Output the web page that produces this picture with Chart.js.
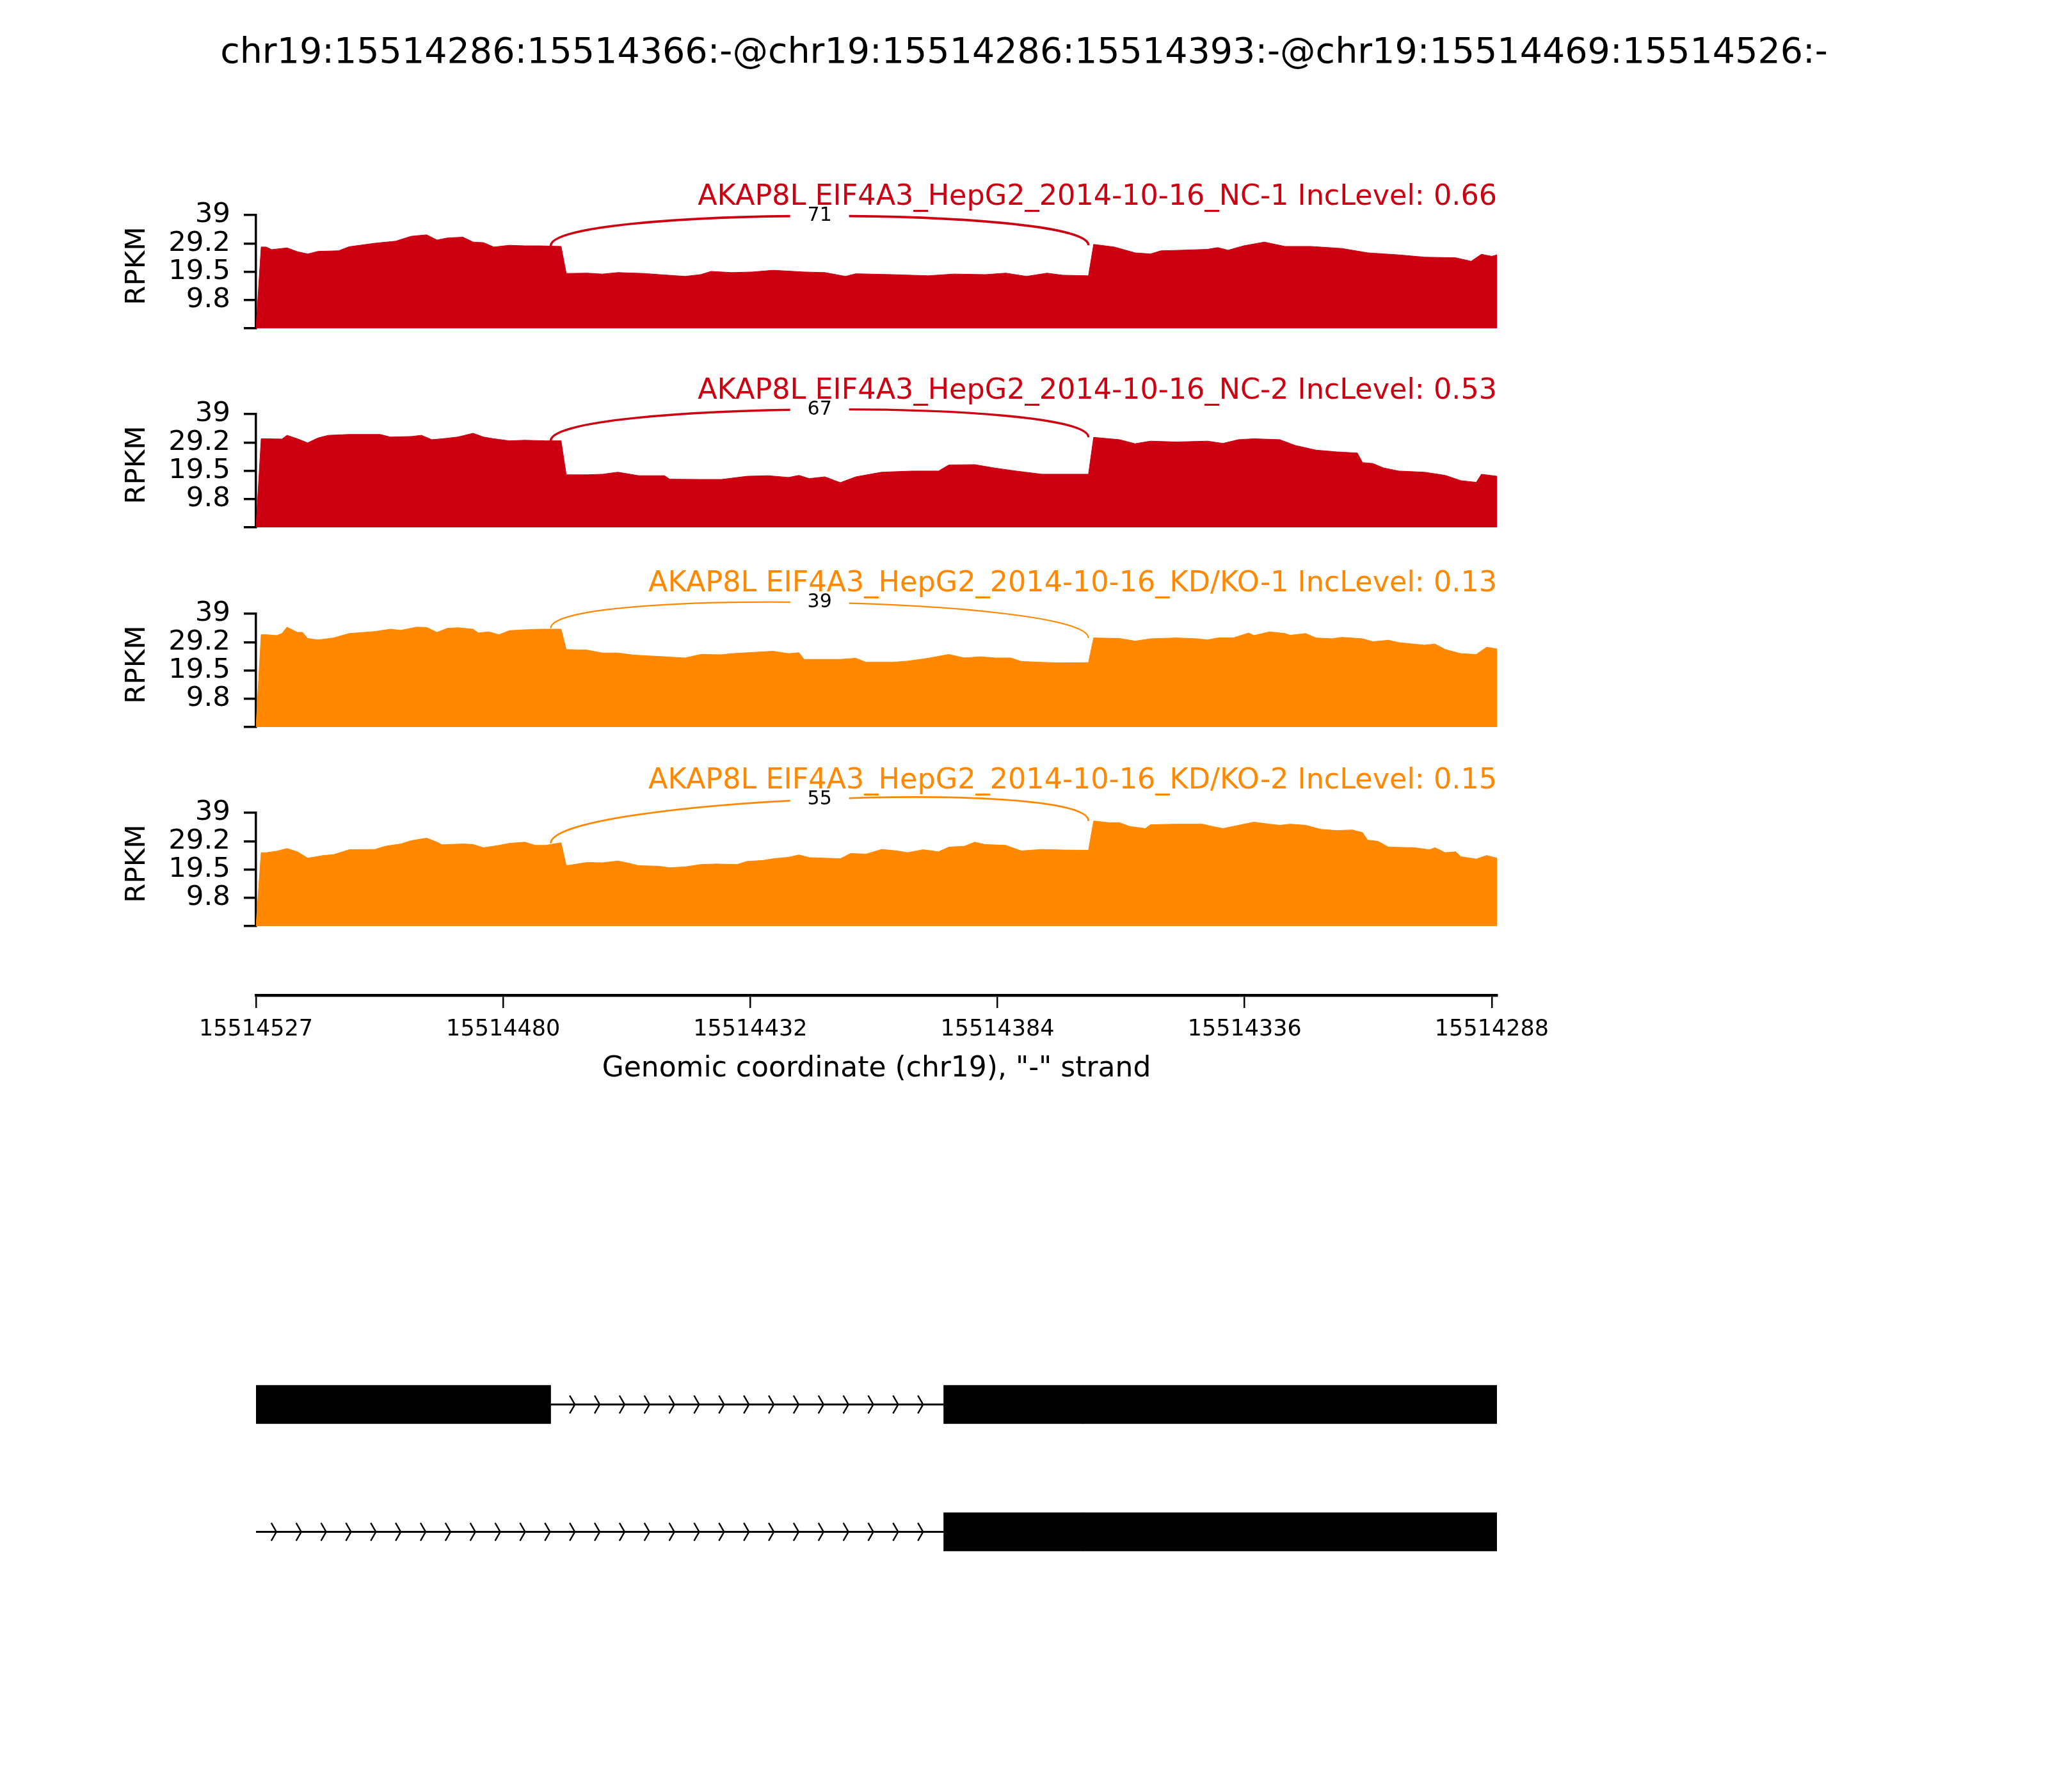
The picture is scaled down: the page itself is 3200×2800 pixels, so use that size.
<!DOCTYPE html>
<html>
<head>
<meta charset="utf-8">
<script src="https://cdn.jsdelivr.net/npm/chart.js@4.4.1/dist/chart.umd.min.js"></script>
<style>
  html, body { margin: 0; padding: 0; background: #fff; }
  #page { position: relative; width: 3200px; height: 2800px; background: #fff; overflow: hidden; }
  #page canvas { position: absolute; left: 0; }
</style>
</head>
<body>
<div id="page"></div>
<script>
const FONT = 'DejaVu Sans';
Chart.defaults.font.family = FONT;
Chart.defaults.color = '#000';

// ---- data ----
const pageTitle = 'chr19:15514286:15514366:-@chr19:15514286:15514393:-@chr19:15514469:15514526:-';
const sampleNames = [
  'AKAP8L EIF4A3_HepG2_2014-10-16_NC-1',
  'AKAP8L EIF4A3_HepG2_2014-10-16_NC-2',
  'AKAP8L EIF4A3_HepG2_2014-10-16_KD/KO-1',
  'AKAP8L EIF4A3_HepG2_2014-10-16_KD/KO-2'
];
const incLevels = ['0.66', '0.53', '0.13', '0.15'];
const sampleColors = ['#CC0011', '#CC0011', '#FF8800', '#FF8800'];

// coverage as [position in window, RPKM]
const covNC1 = [[0,0],[1,28.0],[2,28.0],[3,27.1],[6,27.7],[8,26.4],[10,25.6],[12,26.5],[16,26.7],[18,28.1],[23,29.3],[27,30.0],[30,31.7],[33,32.2],[35,30.4],[37,31.1],[40,31.4],[42,29.7],[44,29.5],[46,28.0],[49,28.6],[52,28.4],[55,28.4],[59,28.2],[60,18.9],[64,19.0],[67,18.7],[70,19.2],[75,18.9],[78,18.5],[83,17.9],[86,18.5],[88,19.6],[92,19.2],[96,19.4],[100,20.0],[106,19.4],[110,19.2],[114,17.9],[116,18.8],[123,18.5],[130,18.1],[135,18.7],[141,18.5],[145,19.0],[149,17.9],[153,19.0],[156,18.3],[161,18.1],[162,28.9],[166,28.0],[170,26.0],[173,25.6],[175,26.7],[179,26.9],[184,27.2],[186,27.8],[188,26.9],[191,28.4],[195,29.7],[199,28.2],[204,28.2],[210,27.5],[215,26.0],[221,25.3],[226,24.5],[232,24.3],[235,23.1],[237,25.5],[239,24.8],[240,25.3]];
const covNC2 = [[0,0],[1,30.5],[2,30.5],[5,30.4],[6,31.7],[8,30.5],[10,29.1],[12,30.8],[14,31.7],[18,32.0],[24,32.0],[26,31.1],[30,31.3],[32,31.7],[34,30.2],[36,30.5],[39,31.1],[42,32.4],[44,31.1],[46,30.5],[49,29.8],[52,30.0],[56,29.8],[59,29.8],[60,18.1],[64,18.1],[67,18.3],[70,19.0],[74,17.8],[79,17.8],[80,16.6],[86,16.5],[90,16.5],[95,17.6],[99,17.8],[103,17.2],[105,17.9],[107,16.8],[110,17.4],[113,15.4],[116,17.4],[121,19.0],[127,19.4],[132,19.4],[134,21.5],[139,21.6],[143,20.4],[147,19.4],[152,18.3],[161,18.3],[162,31.0],[167,30.2],[170,28.8],[173,29.7],[178,29.4],[184,29.7],[187,28.9],[190,30.2],[193,30.5],[198,30.2],[201,28.2],[205,26.6],[209,26.0],[213,25.6],[214,22.3],[216,22.0],[218,20.5],[221,19.4],[226,19.0],[230,17.9],[233,16.1],[236,15.5],[237,18.3],[240,17.6]];
const covKD1 = [[0,0],[1,31.8],[2,31.8],[4,31.5],[5,32.2],[6,34.4],[8,32.6],[9,32.6],[10,30.5],[12,30.0],[15,30.7],[18,32.2],[23,32.9],[26,33.7],[28,33.3],[31,34.4],[33,34.3],[35,32.6],[37,34.0],[39,34.2],[42,33.7],[43,32.4],[45,32.8],[47,31.8],[49,33.2],[52,33.5],[55,33.7],[59,33.7],[60,26.7],[64,26.5],[67,25.5],[70,25.5],[73,24.8],[78,24.3],[83,23.8],[86,25.0],[90,24.9],[92,25.3],[95,25.6],[100,26.1],[103,25.3],[105,25.6],[106,23.3],[113,23.3],[116,23.7],[118,22.3],[120,22.3],[123,22.3],[126,22.7],[130,23.7],[134,25.0],[137,23.8],[140,24.2],[143,23.8],[146,23.8],[148,22.6],[152,22.3],[155,22.1],[161,22.2],[162,30.7],[167,30.5],[170,29.6],[173,30.4],[178,30.7],[182,30.4],[184,30.0],[186,30.7],[189,30.7],[192,32.4],[193,31.5],[196,32.8],[199,32.2],[200,31.6],[203,32.2],[205,30.7],[208,30.4],[210,30.9],[214,30.4],[216,29.4],[219,29.9],[221,29.1],[226,28.2],[228,28.6],[230,26.7],[233,25.3],[236,25.0],[238,27.5],[240,26.9]];
const covKD2 = [[0,0],[1,25.3],[2,25.3],[4,25.8],[6,26.7],[8,25.6],[10,23.4],[13,24.3],[15,24.6],[18,26.3],[23,26.4],[25,27.5],[28,28.3],[30,29.4],[33,30.3],[35,28.9],[36,28.0],[40,28.3],[42,28.1],[44,27.0],[47,27.8],[49,28.5],[52,28.9],[54,27.8],[56,27.8],[59,28.7],[60,20.8],[64,21.9],[67,21.8],[70,22.4],[72,21.7],[74,20.8],[78,20.6],[80,20.1],[83,20.4],[86,21.2],[89,21.4],[93,21.2],[95,22.3],[98,22.6],[100,23.2],[103,23.7],[105,24.5],[107,23.6],[110,23.4],[113,23.2],[115,25.0],[118,24.8],[121,26.4],[124,25.9],[126,25.3],[129,26.3],[132,25.6],[134,27.2],[137,27.5],[139,28.9],[141,28.1],[145,27.8],[148,25.9],[152,26.4],[156,26.2],[161,26.1],[162,36.2],[165,35.6],[167,35.6],[169,34.3],[172,33.6],[173,34.9],[178,35.1],[183,35.1],[185,34.3],[187,33.6],[190,34.7],[193,35.8],[196,35.1],[198,34.7],[200,35.1],[203,34.7],[206,33.3],[209,32.9],[212,33.1],[214,32.2],[215,29.6],[217,29.2],[219,27.2],[224,27.0],[227,26.3],[228,27.0],[230,25.3],[232,25.6],[233,23.9],[236,23.1],[238,24.3],[240,23.4]];
const coverage = [covNC1, covNC2, covKD1, covKD2];

// junction (window positions), read counts, arc anchors and lift
const junction = [57, 161];
const juncCounts = [71, 67, 39, 55];
const juncLeftY = [28.4, 29.8, 34.0, 28.5];
const juncRightY = [28.6, 31.0, 30.6, 36.2];
const juncLift = [13.6, 13.6, 14.1, 15.1];
const juncWidth = [3.6, 3.4, 2.1, 2.8];

const yTickVals = [0, 9.75, 19.5, 29.25, 39];
const yTickLabels = ['', '9.8', '19.5', '29.2', '39'];
const xTickVals = [0, 47.8, 95.6, 143.4, 191.2, 239];
const xTickLabels = ['15514527', '15514480', '15514432', '15514384', '15514336', '15514288'];
const xTitle = 'Genomic coordinate (chr19), "-" strand';

// isoforms: exon spans and intron span, window positions
const isoRows = ['iso1', 'iso2'];
const exonA = [[0, 57], null];
const exonB = [[133, 160], [133, 160]];
const exonC = [[160, 240], [160, 240]];
const introns = [[57, 133], [0, 133]];

// ---- layout ----
const PAGE_W = 3200;
const PLOT_LEFT = 400, PLOT_RIGHT = 2339;
const panelTops = [336, 647, 959, 1270];
const PANEL_H = 177;

const page = document.getElementById('page');
function addCanvas(top, height) {
  const c = document.createElement('canvas');
  c.width = PAGE_W; c.height = height;
  c.style.top = top + 'px';
  c.style.width = PAGE_W + 'px'; c.style.height = height + 'px';
  page.appendChild(c);
  return c;
}

function panelDecor(i) {
  return {
    id: 'decor' + i,
    afterDraw(chart) {
      const {ctx, chartArea: a, scales: {x, y}} = chart;
      const color = sampleColors[i];
      const x1 = x.getPixelForValue(junction[0]);
      const x2 = x.getPixelForValue(junction[1]);
      const yl = juncLeftY[i], yr = juncRightY[i], h = juncLift[i];
      ctx.save();
      ctx.strokeStyle = color;
      ctx.lineWidth = juncWidth[i];
      ctx.beginPath();
      ctx.moveTo(x1, y.getPixelForValue(yl));
      ctx.bezierCurveTo(x1, y.getPixelForValue(yl + h), x2, y.getPixelForValue(yr + h), x2, y.getPixelForValue(yr));
      ctx.stroke();

      const mx = (x1 + x2) / 2;
      const my = y.getPixelForValue((yl + yr) / 2 + 0.75 * h);
      ctx.fillStyle = '#fff';
      ctx.fillRect(mx - 46, my - 20, 92, 40);
      ctx.fillStyle = '#000';
      ctx.font = '30px "' + FONT + '"';
      ctx.textAlign = 'center';
      ctx.textBaseline = 'middle';
      ctx.fillText(String(juncCounts[i]), mx, my);

      ctx.fillStyle = color;
      ctx.font = '44.5px "' + FONT + '"';
      ctx.textAlign = 'right';
      ctx.textBaseline = 'alphabetic';
      ctx.fillText(sampleNames[i] + ' IncLevel: ' + incLevels[i], a.right, my - 17);

      ctx.fillStyle = '#000';
      ctx.font = '43.5px "' + FONT + '"';
      ctx.textAlign = 'center';
      ctx.textBaseline = 'middle';
      ctx.translate(a.left - 185, (a.top + a.bottom) / 2 - 9);
      ctx.rotate(-Math.PI / 2);
      ctx.fillText('RPKM', 0, 0);
      ctx.restore();

      if (i === 0) {
        ctx.save();
        ctx.fillStyle = '#000';
        ctx.font = '55.5px "' + FONT + '"';
        ctx.textAlign = 'center';
        ctx.textBaseline = 'alphabetic';
        ctx.fillText(pageTitle, PAGE_W / 2, 98);
        ctx.restore();
      }
    }
  };
}

coverage.forEach((cov, i) => {
  const padTop = i === 0 ? panelTops[0] : 150;
  const padBottom = 60; // must exceed the y-axis label overhang (~47px)
  const canvasTop = panelTops[i] - padTop;
  const canvas = addCanvas(canvasTop, padTop + PANEL_H + padBottom);
  new Chart(canvas, {
    type: 'line',
    data: {
      datasets: [{
        data: cov.map(([x, y]) => ({x, y})),
        borderColor: sampleColors[i],
        backgroundColor: sampleColors[i],
        borderWidth: 1,
        pointRadius: 0,
        tension: 0,
        fill: 'origin'
      }]
    },
    options: {
      responsive: false,
      devicePixelRatio: 1,
      animation: false,
      events: [],
      layout: {padding: {left: 190, right: PAGE_W - PLOT_RIGHT, top: padTop, bottom: padBottom}},
      plugins: {legend: {display: false}, tooltip: {enabled: false}},
      scales: {
        x: {type: 'linear', min: 0, max: 240, display: false},
        y: {
          type: 'linear', min: 0, max: 39,
          afterFit(scale) { scale.width = PLOT_LEFT - 190; },
          afterBuildTicks(scale) { scale.ticks = yTickVals.map(v => ({value: v})); },
          ticks: {
            autoSkip: false,
            padding: 21,
            font: {size: 43.5},
            color: '#000',
            callback: (v, idx) => yTickLabels[idx]
          },
          grid: {drawOnChartArea: false, drawTicks: true, tickLength: 19, color: '#000', lineWidth: 3.5},
          border: {display: true, color: '#000', width: 3.5}
        }
      }
    },
    plugins: [panelDecor(i)]
  });
});

// ---- genomic coordinate axis ----
{
  const top = 1455;
  const canvas = addCanvas(top, 300);
  new Chart(canvas, {
    type: 'line',
    data: {datasets: []},
    options: {
      responsive: false,
      devicePixelRatio: 1,
      animation: false,
      events: [],
      layout: {padding: {left: PLOT_LEFT, right: PAGE_W - PLOT_RIGHT, top: 0, bottom: 0}},
      plugins: {legend: {display: false}, tooltip: {enabled: false}},
      scales: {
        y: {display: false, min: 0, max: 1},
        x: {
          type: 'linear', min: 0, max: 240, position: 'bottom',
          afterFit(scale) { scale.height = 200; },
          afterBuildTicks(scale) { scale.ticks = xTickVals.map(v => ({value: v})); },
          ticks: {
            autoSkip: false, maxRotation: 0, minRotation: 0,
            padding: 13,
            font: {size: 35},
            color: '#000',
            callback: (v, idx) => xTickLabels[idx]
          },
          grid: {drawOnChartArea: false, drawTicks: true, tickLength: 20, color: '#000', lineWidth: 2.5},
          border: {display: true, color: '#000', width: 4.5},
          title: {display: true, text: xTitle, font: {size: 44}, color: '#000', padding: {top: 0, bottom: 58}}
        }
      }
    }
  });
}

// ---- isoform structures ----
{
  const top = 2050;
  const padTop = 45, areaH = 398, padBottom = 40;
  const canvas = addCanvas(top, padTop + areaH + padBottom);
  const intronPlugin = {
    id: 'introns',
    beforeDatasetsDraw(chart) {
      const {ctx, scales: {x, y}} = chart;
      ctx.save();
      ctx.strokeStyle = '#000';
      introns.forEach(([s, e], r) => {
        const yc = y.getPixelForValue(r);
        ctx.lineWidth = 3;
        ctx.beginPath();
        ctx.moveTo(x.getPixelForValue(s), yc);
        ctx.lineTo(x.getPixelForValue(e), yc);
        ctx.stroke();
        ctx.lineWidth = 2.5;
        for (let p = e - 4; p >= s + 0.5; p -= 4.81) {
          const px = x.getPixelForValue(p);
          ctx.beginPath();
          ctx.moveTo(px - 8, yc - 14);
          ctx.lineTo(px, yc);
          ctx.lineTo(px - 8, yc + 14);
          ctx.stroke();
        }
      });
      ctx.restore();
    }
  };
  const exonSet = (data) => ({
    data, backgroundColor: '#000', borderWidth: 0, barThickness: 60, grouped: false
  });
  new Chart(canvas, {
    type: 'bar',
    data: {labels: isoRows, datasets: [exonSet(exonA), exonSet(exonB), exonSet(exonC)]},
    options: {
      indexAxis: 'y',
      responsive: false,
      devicePixelRatio: 1,
      animation: false,
      events: [],
      layout: {padding: {left: PLOT_LEFT, right: PAGE_W - PLOT_RIGHT, top: padTop, bottom: padBottom}},
      plugins: {legend: {display: false}, tooltip: {enabled: false}},
      scales: {
        x: {type: 'linear', min: 0, max: 240, display: false},
        y: {type: 'category', display: false}
      }
    },
    plugins: [intronPlugin]
  });
}
</script>
</body>
</html>
